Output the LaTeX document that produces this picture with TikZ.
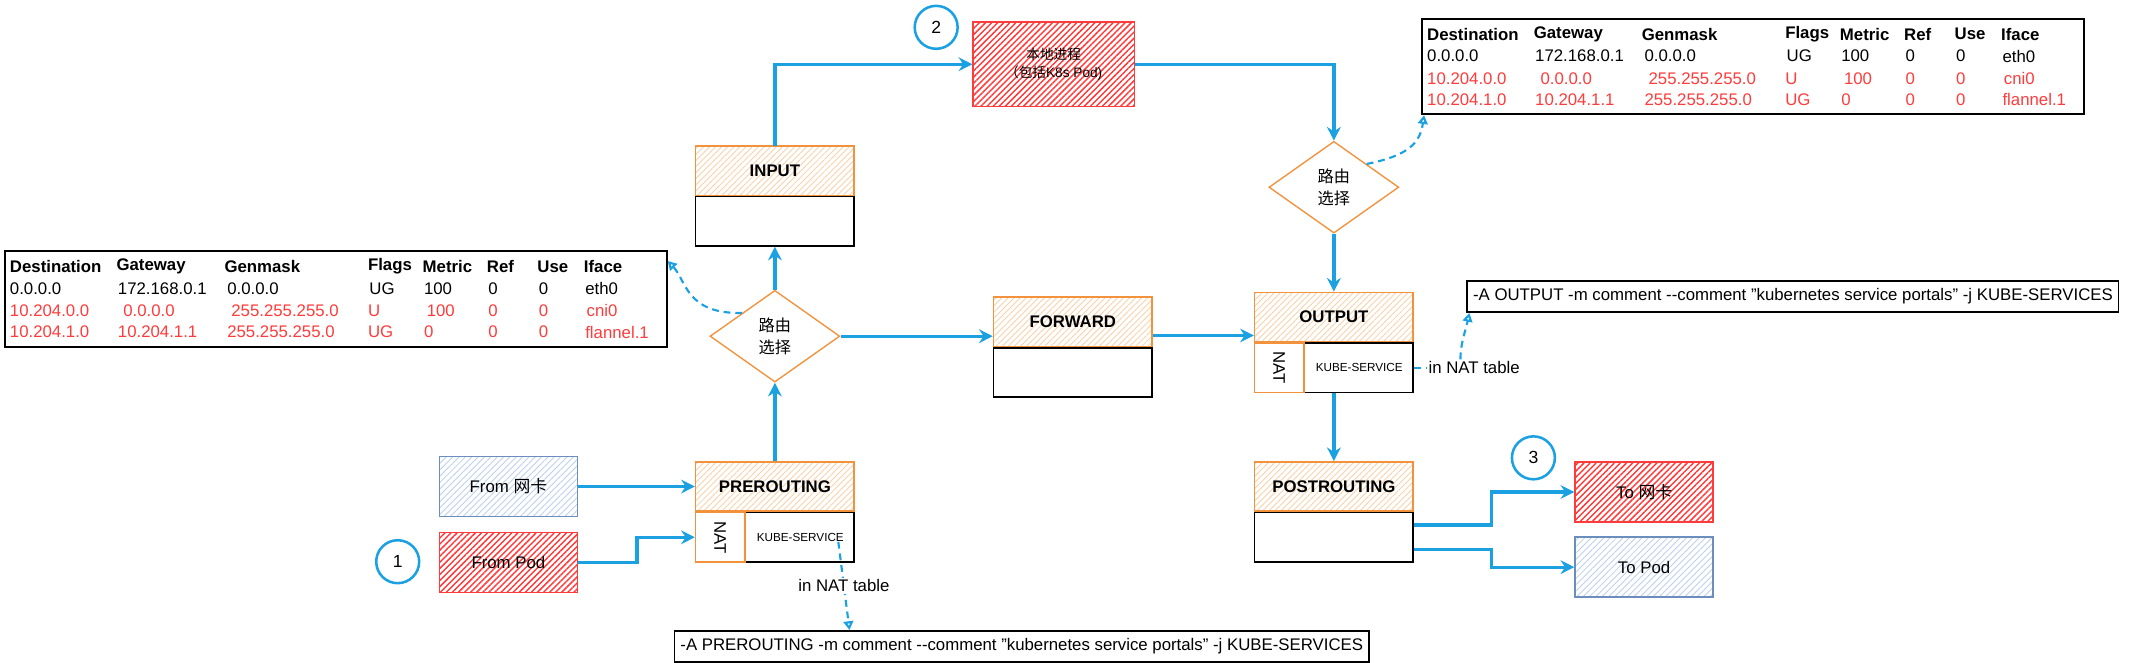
\documentclass[tikz,border=0pt]{standalone}
\usepackage{fontspec}
\setmainfont{Liberation Sans}
\newfontfamily\cjk{Noto Sans CJK SC}
\usetikzlibrary{positioning,calc,shapes.geometric,arrows.meta,patterns.meta}

\definecolor{flowblue}{HTML}{1BA1E2}
\definecolor{chainorange}{HTML}{F2923C}
\definecolor{hatchorange}{HTML}{F8D2A9}
\definecolor{podred}{HTML}{FF3B3B}
\definecolor{nicblue}{HTML}{6C8EBF}
\definecolor{hatchblue}{HTML}{BCD0EE}

\newcommand{\diagfont}{\fontsize{8.6}{10.3}\selectfont}
\newcommand{\smallfont}{\fontsize{6}{7}\selectfont}

\begin{document}
\begin{tikzpicture}[x=0.7pt, y=-0.7pt, font=\diagfont,
        chain_head/.style={rectangle, draw=chainorange, line width=0.8pt, pattern={Lines[angle=45,distance=2.2pt,line width=0.45pt]}, pattern color=hatchorange, minimum width=81.2pt, minimum height=25.2pt, inner sep=0pt, font=\diagfont\bfseries},
        chain_body/.style={rectangle, draw, line width=0.8pt, minimum width=81.2pt, minimum height=25.2pt, inner sep=0pt},
        nat_box/.style={rectangle, draw=chainorange, line width=0.8pt, minimum width=25.2pt, minimum height=25.2pt, inner sep=0pt, anchor=west},
        kube_text/.style={inner sep=0pt, font=\smallfont},
        route/.style={diamond, draw=chainorange, line width=0.7pt, fill=white, minimum width=66.5pt, minimum height=47pt, inner sep=0pt, align=center, font=\cjk\fontsize{8.3}{11.6}\selectfont},
        red_box/.style={rectangle, draw=podred, line width=0.8pt, pattern={Lines[angle=45,distance=2.2pt,line width=0.75pt]}, pattern color=podred, minimum width=70.7pt, minimum height=30.8pt, inner sep=0pt, align=center},
        blue_box/.style={rectangle, draw=nicblue, line width=0.8pt, pattern={Lines[angle=45,distance=2.3pt,line width=0.45pt]}, pattern color=hatchblue, minimum width=70.7pt, minimum height=30.8pt, inner sep=0pt},
        route_table/.style={rectangle, draw, line width=0.9pt, minimum width=339pt, minimum height=49pt, inner sep=0pt, anchor=north west},
        cell/.style={anchor=west, inner sep=0pt},
        cmd/.style={rectangle, draw, line width=0.8pt, inner xsep=3pt, minimum height=16pt, anchor=west},
        num/.style={circle, draw=flowblue, line width=1.3pt, minimum size=22pt, inner sep=0pt, font=\fontsize{9}{10}\selectfont},
        flow/.style={draw=flowblue, line width=1.7pt, -{Stealth[length=7pt,width=7pt]}},
        hint/.style={draw=flowblue, line width=1.1pt, dash pattern=on 3.5pt off 2.5pt, -{Triangle[open,length=4.5pt,width=5pt]}},
        edge_label/.style={fill=white, inner sep=1pt}
    ]
    \useasboundingbox (0,0) rectangle (1560,484.4);

    % routing tables of the two decisions
    \foreach \tbl/\tx/\ty in {left_table/3/183, right_table/1040/13} {
        \node[route_table] (\tbl) at (\tx,\ty) {};
        \foreach \cx/\txt in {4/Destination, 82/Gateway, 161/Genmask, 266/Flags, 306/Metric, 353/Ref, 390/Use, 424/Iface}
            \node[cell, font=\diagfont\bfseries] at (\tx+\cx,\ty+12) {\txt};
        \foreach \cx/\txt in {4/0.0.0.0, 83/172.168.0.1, 163/0.0.0.0, 267/UG, 307/100, 354/0, 391/0, 425/eth0}
            \node[cell] at (\tx+\cx,\ty+28) {\txt};
        \foreach \cx/\txt in {4/10.204.0.0, 87/0.0.0.0, 166/255.255.255.0, 266/U, 309/100, 354/0, 391/0, 426/cni0}
            \node[cell, text=podred] at (\tx+\cx,\ty+44.5) {\txt};
        \foreach \cx/\txt in {4/10.204.1.0, 83/10.204.1.1, 163/255.255.255.0, 266/UG, 307/0, 354/0, 391/0, 425/flannel.1}
            \node[cell, text=podred] at (\tx+\cx,\ty+60) {\txt};
    }

    % local process
    \node[num] (num_2) at (685,20) {2};
    \node[red_box, minimum width=82.6pt, minimum height=43.4pt, font=\fontsize{7}{9.4}\selectfont] (local_proc) at (771,47) {{\cjk 本地进程}\\{\cjk （包括}K8s Pod)};

    % INPUT chain
    \node[chain_head] (input_head) at (567,125) {INPUT};
    \node[chain_body, below=0pt of input_head] (input_body) {};

    % FORWARD chain
    \node[chain_head] (forward_head) at (785,235.5) {FORWARD};
    \node[chain_body, below=0pt of forward_head] (forward_body) {};

    % OUTPUT chain with nat table
    \node[chain_head] (output_head) at (976,232) {OUTPUT};
    \node[chain_body, below=0pt of output_head] (output_body) {};
    \node[nat_box] (output_nat) at (output_body.west) {\rotatebox{-90}{NAT}};
    \node[kube_text] (output_kube) at ($(output_nat.east)!0.5!(output_body.east)$) {KUBE-SERVICE};

    % PREROUTING chain with nat table
    \node[chain_head] (pre_head) at (567,356) {PREROUTING};
    \node[chain_body, below=0pt of pre_head] (pre_body) {};
    \node[nat_box] (pre_nat) at (pre_body.west) {\rotatebox{-90}{NAT}};
    \node[kube_text] (pre_kube) at ($(pre_nat.east)!0.5!(pre_body.east)$) {KUBE-SERVICE};

    % POSTROUTING chain
    \node[chain_head] (post_head) at (976,356) {POSTROUTING};
    \node[chain_body, below=0pt of post_head] (post_body) {};

    % routing decisions
    \node[route] (route_l) at (567,246) {路由\\选择};
    \node[route] (route_r) at (976,137) {路由\\选择};

    % where packets come from and go to
    \node[blue_box] (from_nic) at (372,356) {From {\cjk 网卡}};
    \node[red_box] (from_pod) at (372,411.5) {From Pod};
    \node[num] (num_1) at (291,411) {1};
    \node[num] (num_3) at (1122,335) {3};
    \node[red_box] (to_nic) at (1203,360) {To {\cjk 网卡}};
    \node[blue_box] (to_pod) at (1203,415) {To Pod};

    % iptables rules
    \node[cmd] (output_cmd) at (1073,217) {-A OUTPUT -m comment -{}-comment "kubernetes service portals" -j KUBE-SERVICES};
    \node[cmd] (pre_cmd) at (493,473) {-A PREROUTING -m comment -{}-comment "kubernetes service portals" -j KUBE-SERVICES};

    % packet flow
    \draw[flow] (from_nic) -- (pre_head);
    \draw[flow] (from_pod.east) -- ++(43,0) |- (pre_nat.west);
    \draw[flow] (pre_head) -- (route_l);
    \draw[flow] (route_l) -- (input_body);
    \draw[flow] (input_head.north) |- (local_proc.west);
    \draw[flow] (local_proc.east) -| (route_r.north);
    \draw[flow] (route_l.east) -- (route_l.east -| forward_head.west);
    \draw[flow] ([yshift=-7pt]forward_head.east) -- ([yshift=-7pt]forward_head.east -| output_head.west);
    \draw[flow] (route_r) -- (output_head);
    \draw[flow] (output_body) -- (post_head);
    \draw[flow] ([yshift=6.3pt]post_body.east) -- ++(57,0) |- (to_nic.west);
    \draw[flow] ([yshift=-6.3pt]post_body.east) -- ++(57,0) |- (to_pod.west);

    % lookups
    \draw[hint] (route_l.north west) .. controls (502,230) and (502,205) .. ([yshift=-5.6pt]left_table.north east);
    \draw[hint] (route_r.north east) .. controls (1030,114) and (1039,105) .. ([xshift=1.4pt]right_table.south west);
    \draw[hint] ([xshift=-3pt]pre_kube.south east) -- node[edge_label] {in NAT table} ([xshift=90pt]pre_cmd.north west);
    \node[edge_label, anchor=west] (output_label) at ([xshift=6.3pt]output_body.east) {in NAT table};
    \draw[hint, -] (output_body.east) -- (output_label.west);
    \draw[hint] ([xshift=-7pt]output_label.north) .. controls +(0,-12) and +(-3,14) .. ([xshift=1.5pt]output_cmd.south west);
\end{tikzpicture}
\end{document}
